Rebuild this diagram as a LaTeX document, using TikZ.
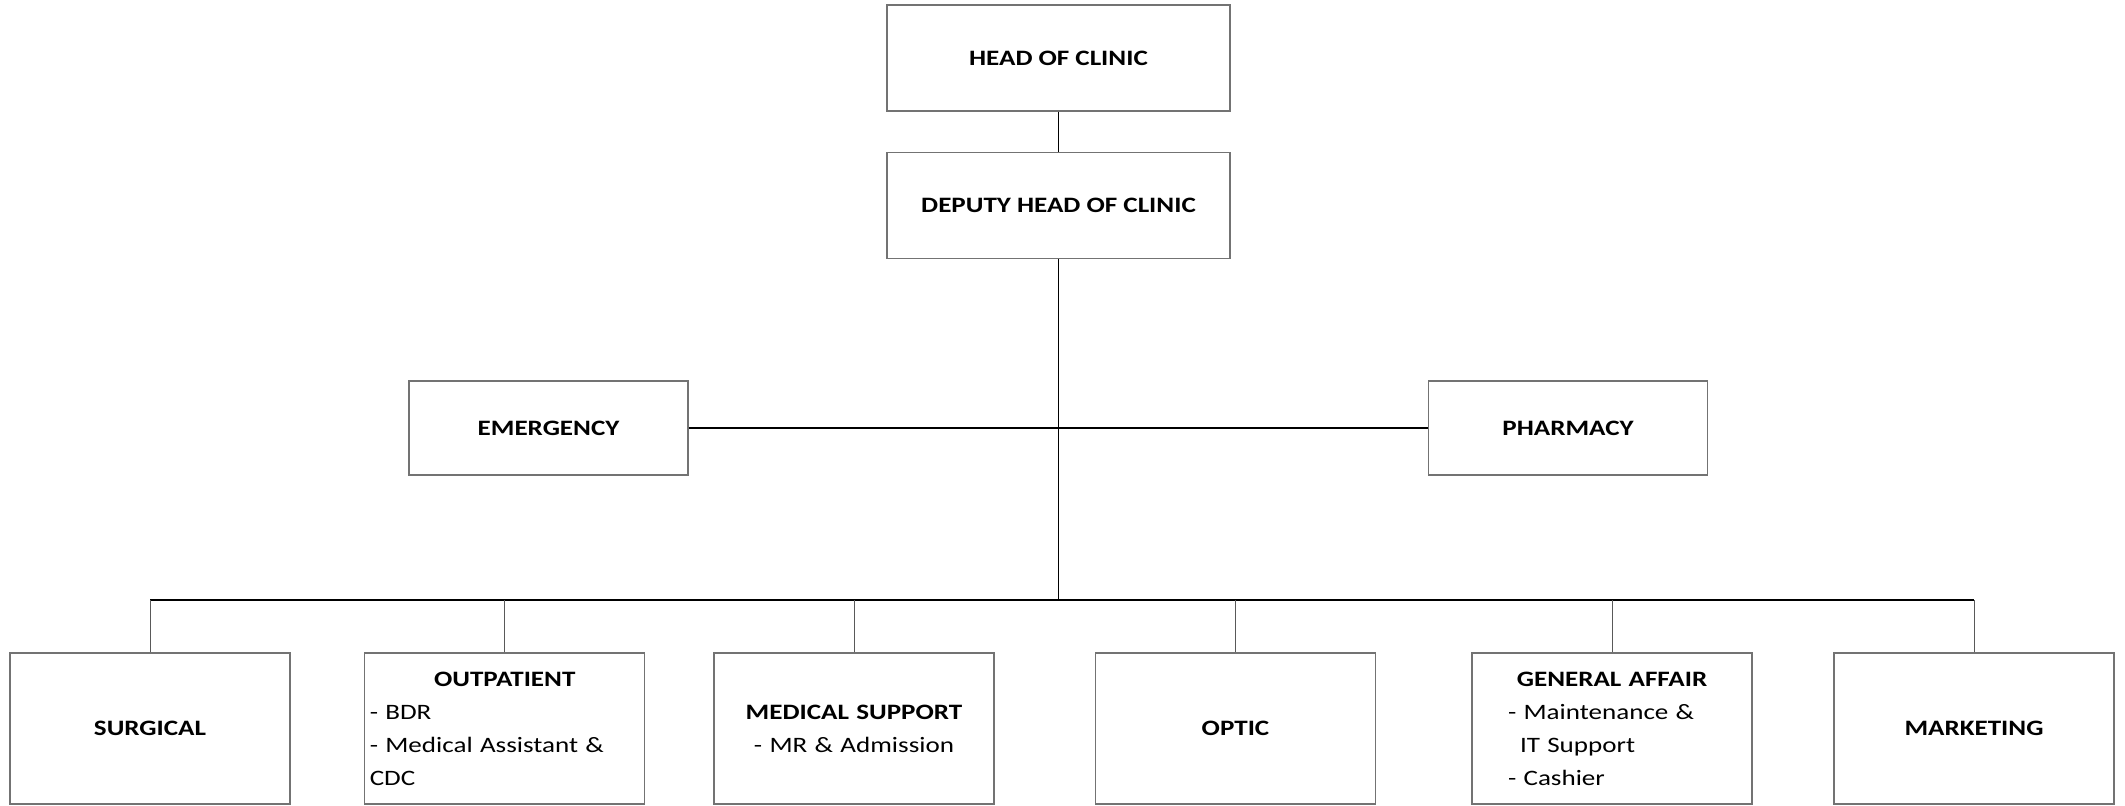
\documentclass[tikz,border=0pt]{standalone}
\usepackage{fontspec}
\setmainfont{Carlito}[FakeStretch=1.23]
\begin{document}
\begin{tikzpicture}[x=0.5pt,y=-0.5pt,
    unitbox/.style={draw=black!55,line width=0.6pt,fill=white,inner sep=2.5pt,
      font=\fontsize{11}{13}\selectfont\bfseries},
    topbox/.style={unitbox,minimum width=171.5pt,minimum height=53pt},
    sidebox/.style={unitbox,minimum width=139.5pt,minimum height=47pt},
    deptbox/.style={unitbox,minimum width=140pt,minimum height=75.5pt,text width=135pt,
      align=center,font=\fontsize{11}{16.5}\selectfont},
    mainline/.style={draw=black,line width=0.65pt},
    dropline/.style={draw=black!65,line width=0.5pt}]
  \useasboundingbox (0,0) rectangle (2125,805);
  % management
  \node[topbox] (head) at (1058.5,58) {HEAD OF CLINIC};
  \node[topbox] (deputy) at (1058.5,205.5) {DEPUTY HEAD OF CLINIC};
  % side units
  \node[sidebox] (emergency) at (548.5,428) {EMERGENCY};
  \node[sidebox] (pharmacy) at (1568,428) {PHARMACY};
  % departments
  \node[deptbox] (surgical) at (150,728.5) {\textbf{SURGICAL}};
  \node[deptbox,align=left] (outpatient) at (504.75,728.5)
    {{\centering\textbf{OUTPATIENT}\par}- BDR\\- Medical Assistant \&\\CDC};
  \node[deptbox] (medsupport) at (854,728.5) {\textbf{MEDICAL SUPPORT}\\- MR \& Admission};
  \node[deptbox] (optic) at (1235.5,728.5) {\textbf{OPTIC}};
  \node[deptbox,align=left] (genaffair) at (1612,728.5)
    {{\centering\textbf{GENERAL AFFAIR}\par}\hspace*{15.5pt}- Maintenance \&\\\hspace*{21.5pt}IT Support\\\hspace*{15.5pt}- Cashier};
  \node[deptbox] (marketing) at (1974,728.5) {\textbf{MARKETING}};
  % connectors
  \coordinate (bus) at (1058.5,600);
  \draw[mainline] (head) -- (deputy);
  \draw[mainline] (deputy) -- (bus);
  \draw[mainline] (emergency) -- (pharmacy);
  \draw[mainline] (surgical.north |- bus) -- (marketing.north |- bus);
  \foreach \dept in {surgical,outpatient,medsupport,optic,genaffair,marketing}
    \draw[dropline] (\dept.north) -- (\dept.north |- bus);
\end{tikzpicture}
\end{document}
